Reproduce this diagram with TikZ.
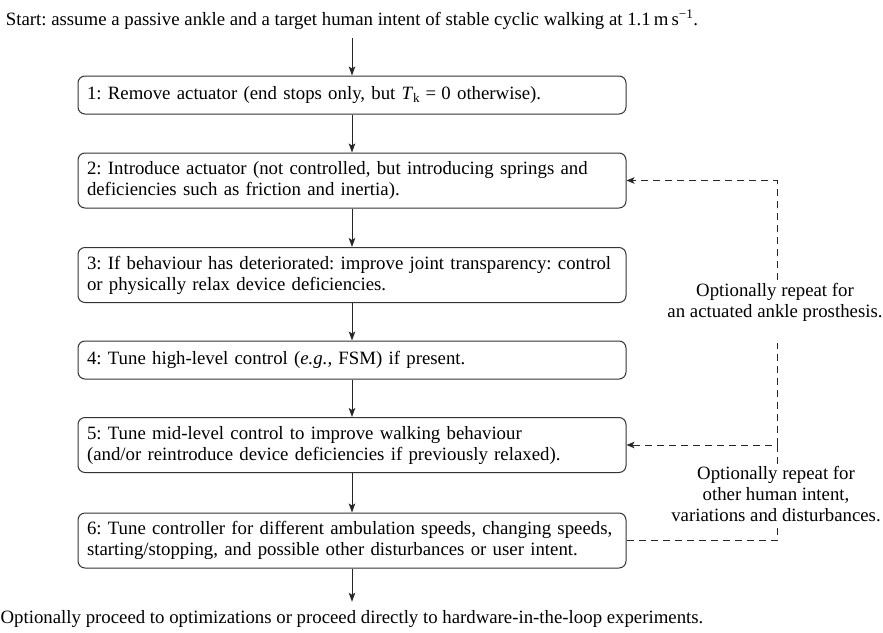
\documentclass[tikz,border=0pt]{standalone}
\usepackage{fontspec}
\setmainfont{Liberation Serif}
\usetikzlibrary{arrows.meta}
\begin{document}
\frenchspacing
\begin{tikzpicture}[x=1pt,y=-1pt,
  every node/.style={font=\fontsize{18.8}{21}\selectfont},
  stepbox/.style={draw=black!80, line width=1pt, rounded corners=7pt,
    text width=530pt, inner xsep=9pt, inner ysep=0pt, align=left,
    minimum height=55pt},
  onebox/.style={stepbox, minimum height=38pt},
  plain/.style={inner sep=0pt, anchor=base},
  flow/.style={draw=black!85, line width=0.9pt,
    -{Stealth[length=9pt,width=6.5pt,inset=2pt]}},
  loopline/.style={draw=black!85, line width=0.9pt, dash pattern=on 7pt off 5pt},
  looparrow/.style={loopline, -{Stealth[length=8pt,width=6.5pt,inset=2pt]}},
  note/.style={align=center, inner sep=0pt}]
\useasboundingbox (0,0) rectangle (883,632);

\node[plain] (start) at (352,25) {Start: assume a passive ankle and a target human intent of stable cyclic walking at 1.1\,m\,s\textsuperscript{−1}.};

\node[onebox] (b1) at (352,95) {1: Remove actuator (end stops only, but \textit{T}\textsubscript{k}\hspace{0.28em}=\hspace{0.28em}0 otherwise).};
\node[stepbox] (b2) at (352,180.5) {2: Introduce actuator (not controlled, but introducing springs and\\deficiencies such as friction and inertia).};
\node[stepbox] (b3) at (352,275) {3: If behaviour has deteriorated: improve joint transparency: control\\or physically relax device deficiencies.};
\node[onebox] (b4) at (352,360) {4: Tune high-level control (\textit{e.g.,} FSM) if present.};
\node[stepbox] (b5) at (352,445) {5: Tune mid-level control to improve walking behaviour\\(and/or reintroduce device deficiencies if previously relaxed).};
\node[stepbox] (b6) at (352,540.5) {6: Tune controller for different ambulation speeds, changing speeds,\\starting/stopping, and possible other disturbances or user intent.};

\node[plain] (end) at (352,623) {Optionally proceed to optimizations or proceed directly to hardware-in-the-loop experiments.};

\node[note] (n1) at (775,302) {Optionally repeat for\\an actuated ankle prosthesis.};
\node[note] (n2) at (776,494) {Optionally repeat for\\other human intent,\\variations and disturbances.};

\coordinate (c2) at (777,180.5);
\coordinate (c5) at (777,445);
\coordinate (c6) at (777,540.5);

\draw[flow, shorten <=9pt] (start.south) -- (b1.north);
\draw[flow] (b1) -- (b2);
\draw[flow] (b2) -- (b3);
\draw[flow] (b3) -- (b4);
\draw[flow] (b4) -- (b5);
\draw[flow] (b5) -- (b6);
\draw[flow, shorten >=8pt] (b6.south) -- (end.north);

\draw[loopline] (b6.east) -- (c6) -- ([yshift=-3pt]c6 |- n2.south);
\draw[looparrow] ([yshift=2pt]c6 |- n2.north) -- (c5) -- (b5.east);
\draw[loopline, shorten >=22pt] (c5) -- (c5 |- n1.south);
\draw[looparrow] ([yshift=3pt]c2 |- n1.north) -- (c2) -- (b2.east);
\end{tikzpicture}
\end{document}
